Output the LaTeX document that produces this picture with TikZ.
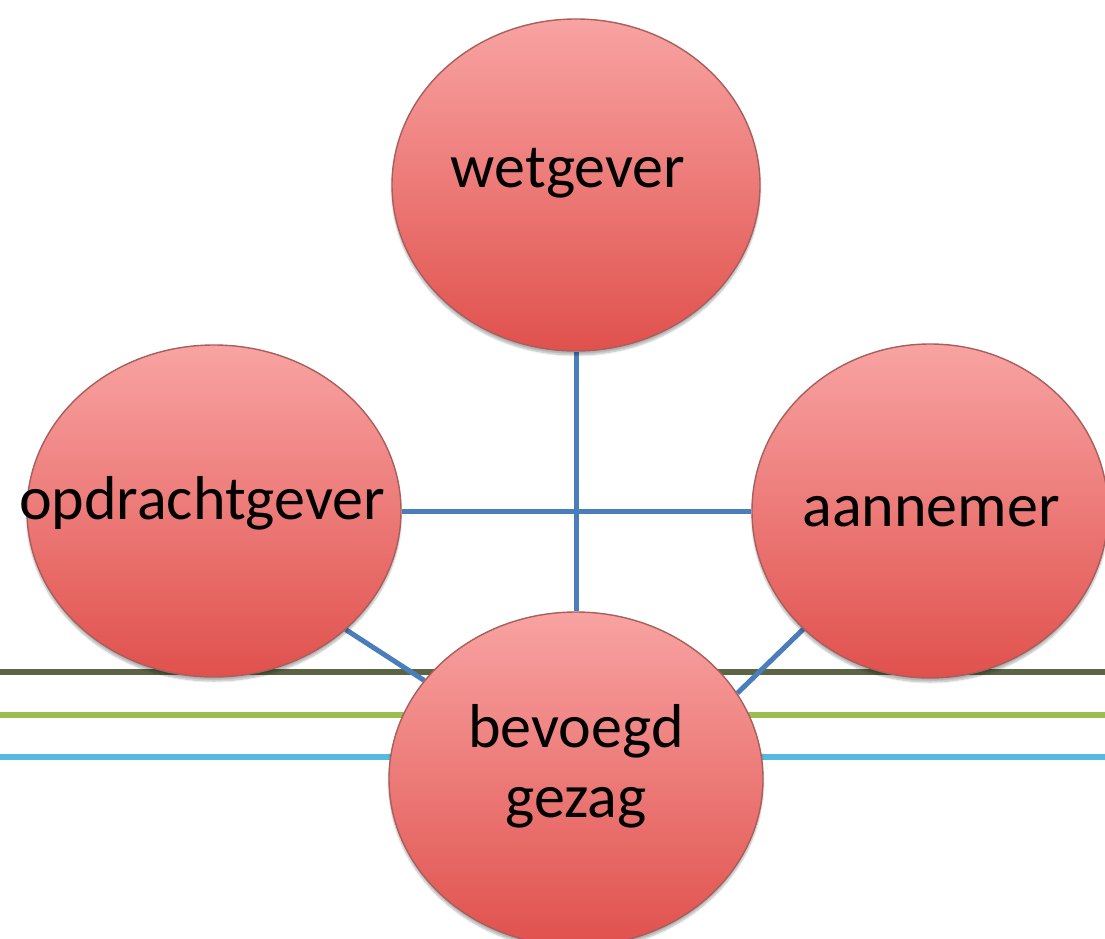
\documentclass[tikz,border=0pt]{standalone}
\usepackage{fontspec}
\setmainfont{Carlito}
\usetikzlibrary{shapes.geometric,backgrounds,shadows.blur}

\definecolor{bubbletop}{HTML}{F8A3A2}
\definecolor{bubblemid}{HTML}{F28C8A}
\definecolor{bubblebot}{HTML}{E0514D}
\definecolor{bubbleedge}{HTML}{A85E5B}
\definecolor{linkblue}{HTML}{4A7EBB}
\definecolor{bandolive}{HTML}{5B6544}
\definecolor{bandgreen}{HTML}{9BBF4E}
\definecolor{bandaqua}{HTML}{58B8DE}

\begin{document}
\begin{tikzpicture}[x=1pt,y=-1pt,
  bubble/.style={ellipse, draw=bubbleedge, line width=1.4pt,
    top color=bubbletop, middle color=bubblemid, bottom color=bubblebot,
    inner sep=0pt,
    blur shadow={shadow xshift=0pt, shadow yshift=-4pt,
                 shadow opacity=30, shadow blur steps=8}},
  caption/.style={font=\fontsize{62}{70}\selectfont, text=black,
    inner sep=0pt, align=center},
  link/.style={draw=linkblue, line width=5pt},
  band/.style={line width=5.5pt}]

\useasboundingbox (0,0) rectangle (1105,939);

% the four parties
\node[bubble, minimum width=368pt, minimum height=332pt] (wet) at (576,185) {};
\node[bubble, minimum width=374pt, minimum height=332pt] (opd) at (214,511) {};
\node[bubble, minimum width=356pt, minimum height=334pt] (aan) at (930,511) {};
\node[bubble, minimum width=374pt, minimum height=334pt] (bev) at (576,779) {};

% their names
\node[caption, anchor=base] (wet-t) at (568,187) {wetgever};
\node[caption, anchor=base] (opd-t) at (202,519) {opdrachtgever};
\node[caption, anchor=base] (aan-t) at (931,526) {aannemer};
\node[caption, anchor=center] (bev-t) at (576,766) {bevoegd\\gezag};

% ends of the three horizontal bands
\coordinate (olive-l) at (0,672);   \coordinate (olive-r) at (1105,672);
\coordinate (green-l) at (0,715);   \coordinate (green-r) at (1105,715);
\coordinate (aqua-l)  at (0,757);   \coordinate (aqua-r)  at (1105,757);

\begin{scope}[on background layer]
  \draw[band, bandolive] (olive-l) -- (olive-r);
  \draw[band, bandgreen] (green-l) -- (green-r);
  \draw[band, bandaqua]  (aqua-l)  -- (aqua-r);

  % relations between the parties
  \draw[link] (wet.south) -- (bev.north);
  \draw[link] (opd.east) -- (aan.west);
  \draw[link] (opd.-42) -- (bev.147);
  \draw[link] (aan.-137) -- (bev.28);
\end{scope}
\end{tikzpicture}
\end{document}
